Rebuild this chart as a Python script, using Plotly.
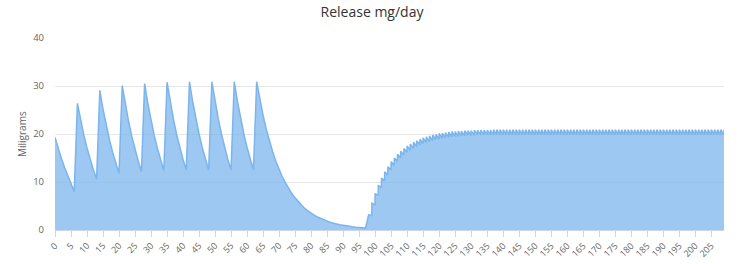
import plotly.graph_objects as go

# ---- data (mg released per day) ----
# Phase 1: weekly injections, days 0..97 (one value per day)
injection_phase_mg = [
    19.3, 17.0, 14.9, 13.0, 11.2, 9.5, 8.0,
    26.4, 22.9, 19.8, 17.1, 14.7, 12.5, 10.6,
    29.1, 25.2, 21.8, 18.8, 16.2, 13.9, 11.8,
    30.1, 26.1, 22.6, 19.5, 16.8, 14.4, 12.2,
    30.5, 26.4, 22.9, 19.7, 17.0, 14.6, 12.4,
    30.8, 26.7, 23.1, 19.9, 17.1, 14.7, 12.5,
    30.9, 26.8, 23.2, 20.0, 17.2, 14.7, 12.5,
    30.9, 26.8, 23.2, 20.0, 17.2, 14.7, 12.5,
    30.9, 26.8, 23.2, 20.0, 17.2, 14.7, 12.5,
    30.9, 27.2, 23.9, 21.0, 18.5, 16.3, 14.3, 12.6, 11.1, 9.8,
    8.6, 7.6, 6.7, 5.9, 5.2, 4.5, 4.0, 3.5, 3.1, 2.7,
    2.4, 2.1, 1.8, 1.6, 1.4, 1.2, 1.1, 1.0, 0.85, 0.75,
    0.66, 0.58, 0.51, 0.45, 0.40,
]

# Phase 2: daily doses, days 98..209 - value right after each dose
daily_phase_peak_mg = [
    3.2, 5.6, 7.6, 9.3, 10.8, 12.1, 13.2, 14.2, 15.0, 15.8,
    16.4, 17.0, 17.5, 17.9, 18.3, 18.6, 18.9, 19.2, 19.4, 19.6,
    19.8, 19.9, 20.1, 20.2, 20.3, 20.4, 20.5, 20.5, 20.6, 20.6,
    20.7, 20.7, 20.7, 20.8, 20.8, 20.8, 20.8, 20.8, 20.8, 20.9,
    20.9, 20.9, 20.9, 20.9, 20.9, 20.9, 20.9, 20.9, 20.9, 20.9,
    20.9, 20.9, 20.9, 20.9, 20.9, 20.9, 20.9, 20.9, 20.9, 20.9,
    20.9, 20.9, 20.9, 20.9, 20.9, 20.9, 20.9, 20.9, 20.9, 20.9,
    20.9, 20.9, 20.9, 20.9, 20.9, 20.9, 20.9, 20.9, 20.9, 20.9,
    20.9, 20.9, 20.9, 20.9, 20.9, 20.9, 20.9, 20.9, 20.9, 20.9,
    20.9, 20.9, 20.9, 20.9, 20.9, 20.9, 20.9, 20.9, 20.9, 20.9,
    20.9, 20.9, 20.9, 20.9, 20.9, 20.9, 20.9, 20.9, 20.9, 20.9,
    20.9, 20.9,
]
# ... and value just before the next dose
daily_phase_trough_mg = [
    3.0, 5.3, 7.2, 8.8, 10.3, 11.5, 12.5, 13.5, 14.3, 15.0,
    15.6, 16.2, 16.6, 17.0, 17.4, 17.7, 18.0, 18.2, 18.4, 18.6,
    18.8, 18.9, 19.1, 19.2, 19.3, 19.4, 19.5, 19.5, 19.6, 19.6,
    19.7, 19.7, 19.7, 19.8, 19.8, 19.8, 19.8, 19.8, 19.8, 19.8,
    19.8, 19.8, 19.8, 19.8, 19.8, 19.8, 19.8, 19.8, 19.8, 19.8,
    19.8, 19.8, 19.8, 19.8, 19.8, 19.8, 19.8, 19.8, 19.8, 19.8,
    19.8, 19.8, 19.8, 19.8, 19.8, 19.8, 19.8, 19.8, 19.8, 19.8,
    19.8, 19.8, 19.8, 19.8, 19.8, 19.8, 19.8, 19.8, 19.8, 19.8,
    19.8, 19.8, 19.8, 19.8, 19.8, 19.8, 19.8, 19.8, 19.8, 19.8,
    19.8, 19.8, 19.8, 19.8, 19.8, 19.8, 19.8, 19.8, 19.8, 19.8,
    19.8, 19.8, 19.8, 19.8, 19.8, 19.8, 19.8, 19.8, 19.8, 19.8,
    19.8, 19.8,
]

x_tick_days = list(range(0, 206, 5))
y_tick_values = [0, 10, 20, 30, 40]
last_day = len(injection_phase_mg) + len(daily_phase_peak_mg) - 1

# ---- build the series ----
xs, ys = [], []
for day, v in enumerate(injection_phase_mg):
    xs.append(day)
    ys.append(v)
start = len(injection_phase_mg)
for i, (pk, tr) in enumerate(zip(daily_phase_peak_mg, daily_phase_trough_mg)):
    day = start + i
    xs += [day, day + 0.97]
    ys += [pk, tr]

FONT = "Open Sans, DejaVu Sans, sans-serif"

fig = go.Figure(go.Scatter(
    x=xs, y=ys, mode="lines", fill="tozeroy",
    line=dict(color="#7cb5ec", width=1.5),
    fillcolor="rgba(124,181,236,0.75)",
    hoverinfo="skip",
))

fig.update_layout(
    width=744, height=264,
    margin=dict(l=55, r=20, t=38, b=34),
    paper_bgcolor="white", plot_bgcolor="white",
    showlegend=False,
    font=dict(family=FONT, color="#666666"),
    title=dict(text="Release mg/day", x=0.5, xanchor="center",
               y=1 - 12 / 264, yanchor="middle",
               font=dict(family=FONT, size=14, color="#333333")),
    xaxis=dict(range=[0, last_day], tickmode="array",
               tickvals=x_tick_days, ticktext=[str(d) for d in x_tick_days],
               tickangle=-45, tickfont=dict(size=9, color="#666666"),
               ticks="outside", ticklen=6, tickcolor="#ccd6eb",
               showline=True, linecolor="#ccd6eb", linewidth=1,
               showgrid=False, zeroline=False, fixedrange=True,
               automargin=False),
    yaxis=dict(range=[0, 40], tickmode="array", tickvals=y_tick_values,
               tickfont=dict(size=9.5, color="#666666"),
               gridcolor="#e6e6e6", gridwidth=1, zeroline=False,
               showline=False, ticks="", ticklabelstandoff=10,
               fixedrange=True, automargin=False),
    annotations=[dict(text="Miligrams", xref="paper", yref="paper",
                      x=(22 - 55) / 669, y=0.5, textangle=-90,
                      showarrow=False, xanchor="center", yanchor="middle",
                      font=dict(family=FONT, size=10, color="#666666"))],
)

fig.write_html("out.html")
